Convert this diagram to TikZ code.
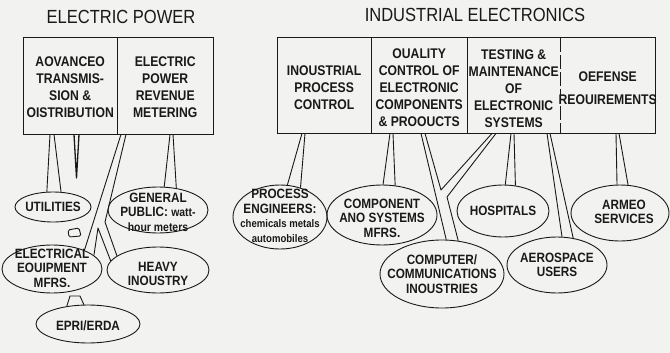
\documentclass[tikz,border=0pt]{standalone}
\usepackage{fontspec}
\setmainfont{Liberation Sans}[FakeStretch=0.87]
\usetikzlibrary{shapes.geometric,calc}
\definecolor{bg}{RGB}{242,242,240}
\definecolor{ink}{RGB}{25,25,25}
\tikzset{
  bxt/.style={align=center, font=\bfseries\fontsize{14}{17}\selectfont, inner sep=0, text=ink},
  col/.style={anchor=north west, minimum height=96pt, inner sep=0},
  ell/.style={ellipse, draw=ink, inner sep=0, line width=0.9pt},
  et/.style={align=center, font=\bfseries\fontsize{13.5}{14.5}\selectfont, inner sep=0, text=ink},
  ttl/.style={font=\fontsize{19}{22}\selectfont, inner sep=0, text=ink},
  ln/.style={draw=ink, line width=0.9pt, line join=round},
  frame/.style={draw=ink, line width=1pt},
}
\begin{document}
\begin{tikzpicture}[x=1pt,y=-1pt]
\fill[bg] (0,0) rectangle (670,353);
\useasboundingbox (0,0) rectangle (670,353);

% titles
\node[ttl] (t1) at (121,16.5) {ELECTRIC POWER};
\node[ttl] (t2) at (475,14.5) {INDUSTRIAL ELECTRONICS};

% electric power boxes
\node[col, minimum width=94pt] (atd) at (23,38) {};
\node[col, minimum width=96pt] (epr) at (117,38) {};
\node[bxt] (atdt) at ($(atd.center)+(0,1)$) {AOVANCEO\\TRANSMIS-\\SION \&\\OISTRIBUTION};
\node[bxt] (eprt) at ($(epr.center)+(0,1)$) {ELECTRIC\\POWER\\REVENUE\\METERING};
\draw[frame] (atd.north west) rectangle (epr.south east);
\draw[frame] (epr.north west) -- (epr.south west);

% industrial boxes
\node[col, minimum width=94pt, minimum height=95pt] (ipc) at (277,38) {};
\node[col, minimum width=96pt, minimum height=95pt] (qc) at (371,38) {};
\node[col, minimum width=93pt, minimum height=95pt] (tm) at (467,38) {};
\node[col, minimum width=95pt, minimum height=95pt] (dr) at (560,38) {};
\node[bxt] (ipct) at ($(ipc.center)+(0,2)$) {INOUSTRIAL\\PROCESS\\CONTROL};
\node[bxt] (qct) at ($(qc.center)+(0,2)$) {OUALITY\\CONTROL OF\\ELECTRONIC\\COMPONENTS\\\& PROOUCTS};
\node[bxt] (tmt) at ($(tm.center)+(0,3)$) {TESTING \&\\MAINTENANCE\\OF\\ELECTRONIC\\SYSTEMS};
\node[bxt] (drt) at ($(dr.center)+(0,2)$) {OEFENSE\\[6pt]REOUIREMENTS};
\draw[frame] (ipc.north west) rectangle (dr.south east);
\draw[frame] (qc.north west) -- (qc.south west);
\draw[frame] (tm.north west) -- (tm.south west);
\draw[frame, dash pattern=on 14pt off 3pt] (dr.north west) -- (dr.south west);

% ellipses (electric power)
\node[ell, minimum width=76pt, minimum height=30pt] (util) at (53,207) {};
\node[et] (utilt) at (util.center) {UTILITIES};
\node[ell, minimum width=100pt, minimum height=46pt] (gp) at (158,210) {};
\node[et] (gpt) at ($(gp.center)+(0,2)$) {GENERAL\\PUBLIC: {\fontsize{12}{14}\selectfont watt-}\\{\fontsize{12}{14}\selectfont hour meters}};
\node[ell, minimum width=100pt, minimum height=48pt] (elec) at (52,269) {};
\node[et] (elect) at ($(elec.center)+(0,-1)$) {ELECTRICAL\\EOUIPMENT\\MFRS.};
\node[ell, minimum width=102pt, minimum height=46pt] (heavy) at (158,270) {};
\node[et] (heavyt) at ($(heavy.center)+(0,4)$) {HEAVY\\INOUSTRY};
\node[ell, minimum width=104pt, minimum height=38pt] (epri) at (88,324) {};
\node[et] (eprit) at ($(epri.center)+(0,2)$) {EPRI/ERDA};

% ellipses (industrial)
\node[ell, minimum width=94pt, minimum height=64pt] (proc) at (280,217) {};
\node[et] (proct) at ($(proc.center)+(0,-1)$) {PROCESS\\ENGINEERS:\\{\fontsize{11}{13}\selectfont chemicals metals}\\{\fontsize{11}{13}\selectfont automobiles}};
\node[ell, minimum width=110pt, minimum height=60pt] (comp) at (382,215) {};
\node[et] (compt) at ($(comp.center)+(0,3)$) {COMPONENT\\ANO SYSTEMS\\MFRS.};
\node[ell, minimum width=124pt, minimum height=68pt] (comm) at (442,274) {};
\node[et] (commt) at (comm.center) {COMPUTER/\\COMMUNICATIONS\\INOUSTRIES};
\node[ell, minimum width=92pt, minimum height=52pt] (hosp) at (503,211) {};
\node[et] (hospt) at (hosp.center) {HOSPITALS};
\node[ell, minimum width=100pt, minimum height=56pt] (aero) at (557,265) {};
\node[et] (aerot) at (aero.center) {AEROSPACE\\USERS};
\node[ell, minimum width=98pt, minimum height=56pt] (arm) at (620,213) {};
\node[et] (armt) at ($(arm.center)+(4,-1)$) {ARMEO\\SERVICES};

% connector top ends
\coordinate (u1) at ($(atd.south west)+(27,0)$);
\coordinate (u2) at ($(atd.south west)+(31,0)$);
\coordinate (s1) at ($(atd.south west)+(51,0)$);
\coordinate (s2) at ($(atd.south west)+(56,0)$);
\coordinate (sp) at (76.5,178);
\coordinate (g1) at ($(epr.south west)+(53,0)$);
\coordinate (g2) at ($(epr.south west)+(56,0)$);
\coordinate (y1) at ($(epr.south west)+(4,0)$);
\coordinate (y2) at ($(epr.south west)+(9,0)$);
\coordinate (yb) at (105,222);
\coordinate (yc) at (98,228);
\coordinate (i1) at ($(ipc.south west)+(25,0)$);
\coordinate (i2) at ($(ipc.south west)+(28,0)$);
\coordinate (k1) at ($(qc.south west)+(19,0)$);
\coordinate (k2) at ($(qc.south west)+(22,0)$);
\coordinate (m1) at ($(qc.south west)+(50,0)$);
\coordinate (m2) at ($(qc.south west)+(54,0)$);
\coordinate (n1) at ($(tm.south west)+(25,0)$);
\coordinate (n2) at ($(tm.south west)+(29,0)$);
\coordinate (zc) at (441,190);
\coordinate (zb) at (447,197);
\coordinate (h1) at ($(tm.south west)+(44,0)$);
\coordinate (h2) at ($(tm.south west)+(47,0)$);
\coordinate (a1) at ($(tm.south west)+(80,0)$);
\coordinate (a2) at ($(tm.south west)+(83,0)$);
\coordinate (r1) at ($(dr.south west)+(56,0)$);
\coordinate (r2) at ($(dr.south west)+(59,0)$);

% electric power connectors
\draw[ln] (u1) -- (util.112);
\draw[ln] (u2) -- (util.62);
\draw[ln, line width=1.3pt] (s1) -- (sp) -- (s2);
\draw[ln] (g1) -- (gp.75);
\draw[ln] (g2) -- (gp.50);
\draw[ln] (y1) -- (elec.30);
\draw[ln] (y2) -- (yb) -- (heavy.161);
\draw[ln] (elec.18) -- (yc) -- (heavy.169);
% small tabs
\draw[ln, rounded corners=1.5pt] (69,237) -- (68,230) -- (79,228) -- (81,236) -- cycle;
\draw[ln] (epri.140) -- (70,296) -- (80,296) -- (epri.102);

% industrial connectors
\draw[ln] (i1) -- (proc.77);
\draw[ln] (i2) -- (proc.55);
\draw[ln] (k1) -- (comp.88);
\draw[ln] (k2) -- (comp.66);
\draw[ln] (m1) -- (comm.83);
\draw[ln] (m2) -- (zc) -- (n1);
\draw[ln] (n2) -- (zb) -- (comm.64);
\draw[ln] (h1) -- (hosp.85);
\draw[ln] (h2) -- (hosp.64);
\draw[ln] (a1) -- (aero.80);
\draw[ln] (a2) -- (aero.59);
\draw[ln] (r1) -- (arm.96);
\draw[ln] (r2) -- (arm.74);
\end{tikzpicture}
\end{document}
